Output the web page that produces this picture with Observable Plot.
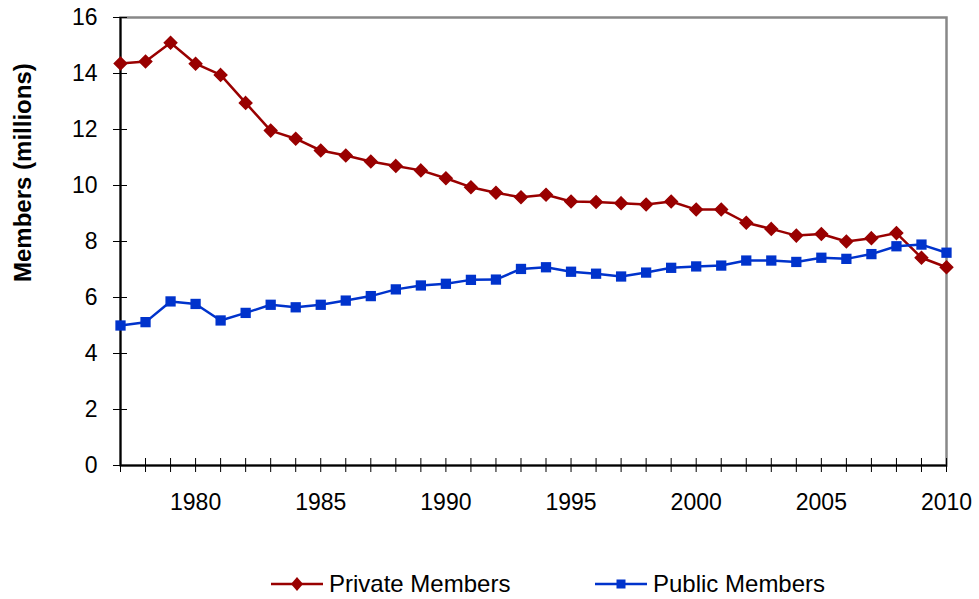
<!DOCTYPE html>
<html>
<head>
<meta charset="utf-8">
<script src="https://cdn.jsdelivr.net/npm/d3@7"></script>
<script src="https://cdn.jsdelivr.net/npm/@observablehq/plot@0.6"></script>
<style>
  html, body { margin: 0; padding: 0; background: #fff; }
  body { width: 979px; height: 599px; overflow: hidden; font-family: "Liberation Sans", Arial, sans-serif; }
  #legend { position: relative; height: 69px; }
  .item { position: absolute; top: 40px; display: flex; align-items: center; font-size: 24px; color: #000; }
  .item svg { margin-right: 6px; }
</style>
</head>
<body>
<div id="chart"></div>
<div id="legend"></div>
<script>
const years = d3.range(1977, 2011);
const privateMembers = [14.36, 14.43, 15.1, 14.35, 13.95, 12.95, 11.96, 11.67, 11.25, 11.07, 10.86, 10.7,
  10.54, 10.26, 9.94, 9.74, 9.58, 9.67, 9.43, 9.41, 9.37, 9.32, 9.43, 9.14, 9.14, 8.67, 8.45, 8.21, 8.27,
  8.0, 8.12, 8.3, 7.42, 7.08];
const publicMembers = [5.0, 5.12, 5.86, 5.77, 5.18, 5.45, 5.74, 5.65, 5.74, 5.89, 6.05, 6.29,
  6.43, 6.49, 6.63, 6.64, 7.02, 7.08, 6.92, 6.85, 6.75, 6.89, 7.06, 7.11, 7.14, 7.32, 7.32, 7.27, 7.42,
  7.38, 7.55, 7.83, 7.89, 7.6];
const seriesNames = ["Private Members", "Public Members"];
const yTicks = d3.range(0, 17, 2);
const xLabelTicks = d3.range(1980, 2011, 5);
const yTitle = "Members (millions)";

const privColor = "#990000";
const pubColor = "#0033cc";

const priv = years.map((y, i) => ({year: y, value: privateMembers[i]}));
const pub = years.map((y, i) => ({year: y, value: publicMembers[i]}));

const chart = Plot.plot({
  width: 979,
  height: 530,
  marginLeft: 120,
  marginRight: 33,
  marginTop: 17,
  marginBottom: 65,
  style: {fontFamily: "Liberation Sans, Arial, sans-serif", fontSize: "23px", color: "#000", background: "#fff"},
  x: {domain: [1977, 2010]},
  y: {domain: [0, 16]},
  marks: [
    Plot.frame({stroke: "#888", strokeWidth: 2.5}),
    Plot.ruleX(years, {x: d => d, y1: -0.25, y2: 0.25, stroke: "#000", strokeWidth: 1}),
    Plot.ruleY(yTicks, {y: d => d, x1: 1977 - 0.28, x2: 1977 + 0.28, stroke: "#000", strokeWidth: 1}),
    Plot.ruleY([0], {stroke: "#000", strokeWidth: 2}),
    Plot.ruleX([1977], {stroke: "#000", strokeWidth: 2}),
    Plot.axisY({ticks: yTicks, tickSize: 0, tickPadding: 23, fontSize: 23, label: null}),
    Plot.axisX({ticks: xLabelTicks, tickFormat: d => String(d), tickSize: 0, tickPadding: 28, fontSize: 23, label: null}),
    Plot.text([yTitle], {x: 1977, y: 10.46, text: d => d, rotate: -90, dx: -97, fontWeight: "bold", fontSize: 24}),
    Plot.line(priv, {x: "year", y: "value", stroke: privColor, strokeWidth: 2.5}),
    Plot.dot(priv, {x: "year", y: "value", symbol: "diamond2", fill: privColor, stroke: privColor, r: 5.6}),
    Plot.line(pub, {x: "year", y: "value", stroke: pubColor, strokeWidth: 2.5}),
    Plot.dot(pub, {x: "year", y: "value", symbol: "square", fill: pubColor, r: 5.8})
  ]
});
document.getElementById("chart").appendChild(chart);

const legend = document.getElementById("legend");
const items = [
  {name: seriesNames[0], color: privColor, shape: "diamond", left: 271},
  {name: seriesNames[1], color: pubColor, shape: "square", left: 595}
];
for (const it of items) {
  const div = document.createElement("div");
  div.className = "item";
  div.style.left = it.left + "px";
  const marker = it.shape === "diamond"
    ? `<path d="M26,6 L32,13 L26,20 L20,13 Z" fill="${it.color}"/>`
    : `<rect x="21.5" y="8.5" width="9" height="9" fill="${it.color}"/>`;
  div.innerHTML = `<svg width="52" height="26"><line x1="0" y1="13" x2="52" y2="13" stroke="${it.color}" stroke-width="2.5"/>${marker}</svg><span>${it.name}</span>`;
  legend.appendChild(div);
}
</script>
</body>
</html>
